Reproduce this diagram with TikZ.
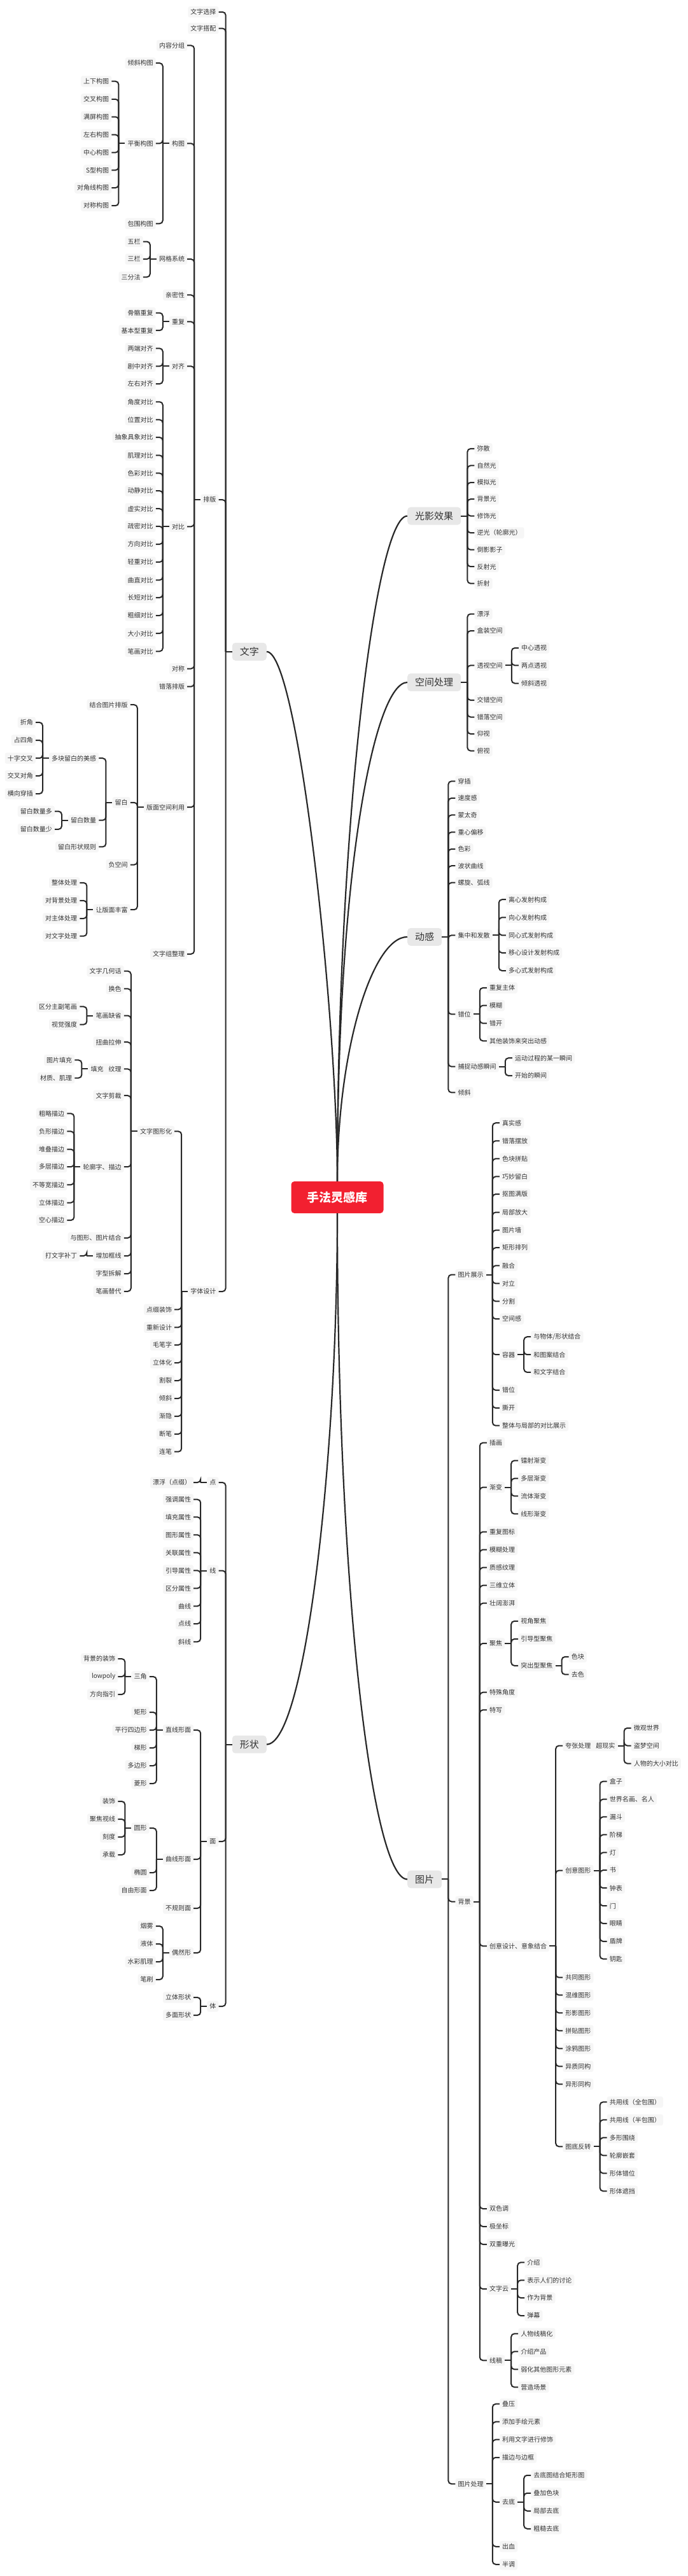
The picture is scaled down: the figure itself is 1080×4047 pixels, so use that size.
\documentclass[tikz,border=0pt]{standalone}
\usepackage{fontspec}
\setmainfont{Noto Sans CJK SC}
\usepackage{tikz}

\definecolor{ink}{RGB}{51,51,51}
\definecolor{wire}{RGB}{40,40,40}
\definecolor{leafbg}{RGB}{246,246,246}
\definecolor{topicbg}{RGB}{232,232,232}
\definecolor{hubred}{RGB}{242,32,48}

\tikzset{
  leaf/.style={font=\fontsize{10}{12}\selectfont, text=ink, fill=leafbg,
    rounded corners=3pt, inner xsep=4pt, inner ysep=4pt},
  topic/.style={font=\fontsize{15}{18}\selectfont, text=ink, fill=topicbg,
    rounded corners=5pt, inner xsep=12pt, inner ysep=7pt},
  hub/.style={font=\fontsize{19}{22}\selectfont\bfseries, text=white, fill=hubred,
    rounded corners=5pt, minimum width=145pt, minimum height=50pt},
  br/.style={draw=wire, line width=2pt, rounded corners=5pt},
  trunk/.style={draw=wire, line width=2.2pt},
}

% children to the right / to the left of a parent: name/y/text
\newcommand\kidsR[2]{%
  \draw[br] (#1.east) -- ++(10,0);
  \foreach \nm/\yy/\lab in {#2}{%
    \node[leaf,anchor=west,xshift=21pt] (\nm) at (#1.east |- 0,\yy) {\lab};
    \draw[br] (#1.east) ++(10,0) |- (\nm.west);
  }}
\newcommand\kidsL[2]{%
  \draw[br] (#1.west) -- ++(-10,0);
  \foreach \nm/\yy/\lab in {#2}{%
    \node[leaf,anchor=east,xshift=-21pt] (\nm) at (#1.west |- 0,\yy) {\lab};
    \draw[br] (#1.west) ++(-10,0) |- (\nm.east);
  }}

\begin{document}
\begin{tikzpicture}[x=1pt,y=-1pt]
\fill[white] (0,0) rectangle (1080,4047);
\useasboundingbox (0,0) rectangle (1080,4047);

\node[hub] (root) at (530,1881) {手法灵感库};
\node[topic,anchor=east] (wenzi) at (419,1023.8) {文字};
\node[topic,anchor=east] (xingzhuang) at (419,2740.5) {形状};
\node[topic,anchor=west] (guangying) at (640,810.6) {光影效果};
\node[topic,anchor=west] (kongjian) at (640,1072) {空间处理};
\node[topic,anchor=west] (donggan) at (640,1471.9) {动感};
\node[topic,anchor=west] (tupian) at (640,2952.4) {图片};

\draw[trunk] (root.north) .. controls +(0,-256) and +(50,0) .. (wenzi.east);
\draw[trunk] (root.north) .. controls +(0,-556) and +(-50,0) .. (guangying.west);
\draw[trunk] (root.north) .. controls +(0,-500) and +(-50,0) .. (kongjian.west);
\draw[trunk] (root.north) .. controls +(0,-206) and +(-55,0) .. (donggan.west);
\draw[trunk] (root.south) .. controls +(0,394) and +(60,0) .. (xingzhuang.east);
\draw[trunk] (root.south) .. controls +(0,594) and +(-55,0) .. (tupian.west);

% 文字
\kidsL{wenzi}{wz1/18.8/文字选择, wz2/44.6/文字搭配, paiban/785.1/排版, ztsj/2029/字体设计}
\kidsL{paiban}{pb1/71.4/内容分组, goutu/225.3/构图, wangge/407.1/网格系统, pb4/463.4/亲密性,
  chongfu/505.4/重复, duiqi/575.3/对齐, duibi/827.3/对比, pb8/1050.5/对称, pb9/1078.7/错落排版,
  bmkj/1268.2/版面空间利用, pb11/1498.8/文字组整理}
\kidsL{goutu}{gt1/99.1/倾斜构图, pingheng/225.4/平衡构图, gt3/351.3/包围构图}
\kidsL{pingheng}{ph1/127.7/上下构图, ph2/155.8/交叉构图, ph3/183.5/满屏构图, ph4/211.6/左右构图,
  ph5/239.7/中心构图, ph6/267.4/S型构图, ph7/295.1/对角线构图, ph8/323.2/对称构图}
\kidsL{wangge}{wg1/379.5/五栏, wg2/407.1/三栏, wg3/435.3/三分法}
\kidsL{chongfu}{cf1/491.5/骨骼重复, cf2/519.2/基本型重复}
\kidsL{duiqi}{dq1/547.3/两端对齐, dq2/575.4/剧中对齐, dq3/603.1/左右对齐}
\kidsL{duibi}{db1/631.3/角度对比, db2/659.4/位置对比, db3/687.1/抽象具象对比, db4/715.3/肌理对比,
  db5/743.4/色彩对比, db6/771.1/动静对比, db7/799.2/虚实对比, db8/826.9/疏密对比, db9/855/方向对比,
  db10/883.1/轻重对比, db11/911.3/曲直对比, db12/938.9/长短对比, db13/967/粗细对比,
  db14/995.2/大小对比, db15/1023.3/笔画对比}
\kidsL{bmkj}{bm1/1107.2/结合图片排版, liubai/1260.8/留白, bm3/1358.6/负空间, fengfu/1429.2/让版面丰富}
\kidsL{liubai}{duokuai/1191.2/多块留白的美感, shuliang/1288.7/留白数量, lb3/1330.4/留白形状规则}
\kidsL{duokuai}{dk1/1134.9/折角, dk2/1163/占四角, dk3/1191.2/十字交叉, dk4/1218.8/交叉对角, dk5/1247/横向穿插}
\kidsL{shuliang}{sl1/1274.6/留白数量多, sl2/1302.8/留白数量少}
\kidsL{fengfu}{ff1/1386.8/整体处理, ff2/1414.9/对背景处理, ff3/1443/对主体处理, ff4/1470.7/对文字处理}
\kidsL{ztsj}{txh/1777.4/文字图形化, zs2/2057.3/点缀装饰, zs3/2085.3/重新设计, zs4/2113/毛笔字,
  zs5/2141/立体化, zs6/2169/割裂, zs7/2197/倾斜, zs8/2225/渐隐, zs9/2253/断笔, zs10/2280.7/连笔}
\kidsL{txh}{tx1/1525.6/文字几何话, tx2/1553.3/换色, quesheng/1595.5/笔画缺省, tx4/1637.2/扭曲拉伸,
  tianchong/1679.4/填充\hspace{8pt}纹理, tx6/1721.2/文字剪裁, lunkuo/1833.2/轮廓字、描边,
  tx8/1944.8/与图形、图片结合, kuangxian/1973/增加框线, tx10/2001.1/字型拆解, tx11/2028.8/笔画替代}
\kidsL{quesheng}{qs1/1581.4/区分主副笔画, qs2/1609.6/视觉强度}
\kidsL{tianchong}{tc1/1665.4/图片填充, tc2/1693.5/材质、肌理}
\kidsL{lunkuo}{lk1/1749.3/粗略描边, lk2/1777.4/负形描边, lk3/1805.5/堆叠描边, lk4/1833.2/多层描边,
  lk5/1861.3/不等宽描边, lk6/1889.5/立体描边, lk7/1917.1/空心描边}
\kidsL{kuangxian}{kx1/1973/打文字补丁}

% 形状
\kidsL{xingzhuang}{dian/2329/点, xian/2467.5/线, mian/2893/面, ti/3152/体}
\kidsL{dian}{dn1/2329/漂浮（点缀）}
\kidsL{xian}{xn1/2355.7/强调属性, xn2/2383.3/填充属性, xn3/2411.3/图形属性, xn4/2439.3/关联属性,
  xn5/2467.3/引导属性, xn6/2495.3/区分属性, xn7/2523.3/曲线, xn8/2551/点线, xn9/2579.3/斜线}
\kidsL{mian}{zxm/2718/直线形面, qxm/2921/曲线形面, mn3/2998/不规则面, orx/3068/偶然形}
\kidsL{zxm}{sanjiao/2634/三角, zx2/2690/矩形, zx3/2718/平行四边形, zx4/2746/梯形, zx5/2774/多边形, zx6/2802/菱形}
\kidsL{sanjiao}{sj1/2606/背景的装饰, sj2/2634/lowpoly, sj3/2662/方向指引}
\kidsL{qxm}{yuan/2872/圆形, qx2/2942/椭圆, qx3/2970/自由形面}
\kidsL{yuan}{yx1/2830/装饰, yx2/2858/聚焦视线, yx3/2886/刻度, yx4/2914/承载}
\kidsL{orx}{or1/3026/烟雾, or2/3054/液体, or3/3082/水彩肌理, or4/3110/笔刷}
\kidsL{ti}{ti1/3138/立体形状, ti2/3166/多面形状}

% 光影效果 / 空间处理 / 动感
\kidsR{guangying}{gy1/704.9/弥散, gy2/731.4/自然光, gy3/758/模拟光, gy4/784.1/背景光, gy5/810.6/修饰光,
  gy6/837.1/逆光（轮廓光）, gy7/863.7/倒影影子, gy8/890.2/反射光, gy9/916.7/折射}
\kidsR{kongjian}{kj1/964.5/漂浮, kj2/991/盒装空间, toushi/1045.3/透视空间, kj4/1100/交错空间,
  kj5/1126.5/错落空间, kj6/1153/仰视, kj7/1179.6/俯视}
\kidsR{toushi}{ts1/1018/中心透视, ts2/1045.3/两点透视, ts3/1073.5/倾斜透视}
\kidsR{donggan}{dg1/1227.3/穿插, dg2/1253.9/速度感, dg3/1280.4/蒙太奇, dg4/1307.3/重心偏移, dg5/1333.8/色彩,
  dg6/1360.2/波状曲线, dg7/1386.7/螺旋、弧线, jizhong/1469.3/集中和发散, cuowei/1593.4/错位,
  buzhuo/1675.7/捕捉动感瞬间, dg11/1716.4/倾斜}
\kidsR{jizhong}{jz1/1413.2/离心发射构成, jz2/1441.3/向心发射构成, jz3/1469.3/同心式发射构成,
  jz4/1497/移心设计发射构成, jz5/1525/多心式发射构成}
\kidsR{cuowei}{cw1/1551.9/重复主体, cw2/1579.6/模糊, cw3/1607.7/错开, cw4/1635.3/其他装饰来突出动感}
\kidsR{buzhuo}{bz1/1662.2/运动过程的某一瞬间, bz2/1689.9/开始的瞬间}

% 图片
\kidsR{tupian}{zhanshi/2002.5/图片展示, beijing/2987.5/背景, chuli/3902.3/图片处理}
\kidsR{zhanshi}{tz1/1764.2/真实感, tz2/1792.3/错落摆放, tz3/1820.3/色块拼贴, tz4/1848.4/巧妙留白,
  tz5/1876/抠图满版, tz6/1904.5/局部放大, tz7/1932.6/图片墙, tz8/1960.2/矩形排列, tz9/1988.3/融合,
  tz10/2016.4/对立, tz11/2044.4/分割, tz12/2072.1/空间感, rongqi/2128.2/容器, tz14/2184/错位,
  tz15/2212/撕开, tz16/2239.7/整体与局部的对比展示}
\kidsR{rongqi}{rq1/2100.2/{与物体/形状结合}, rq2/2128.2/和图案结合, rq3/2155.9/和文字结合}
\kidsR{beijing}{bj1/2266.6/插画, jianbian/2336.5/渐变, bj3/2406.5/重复图标, bj4/2434.5/模糊处理,
  bj5/2462.6/质感纹理, bj6/2490.7/三维立体, bj7/2518.7/壮阔澎湃, jujiao/2581.8/聚焦, bj9/2658.7/特殊角度,
  bj10/2686.3/特写, chuangyi/3057.4/创意设计、意象结合, bj12/3470/双色调, bj13/3498/极坐标,
  bj14/3526/双重曝光, ciyun/3596.1/文字云, xiangao/3708.3/线稿}
\kidsR{jianbian}{jb1/2294.6/镭射渐变, jb2/2322.7/多层渐变, jb3/2350.4/流体渐变, jb4/2378.4/线形渐变}
\kidsR{jujiao}{jj1/2546.8/视角聚焦, jj2/2574.9/引导型聚焦, tuchu/2616.8/突出型聚焦}
\kidsR{tuchu}{tu1/2602.9/色块, tu2/2630.6/去色}
\kidsR{chuangyi}{kuazhang/2742.5/夸张处理\hspace{8pt}超现实, tuxing/2938.5/创意图形, cy3/3106.7/共同图形,
  cy4/3134.3/混维图形, cy5/3162.3/形影图形, cy6/3190.3/拼贴图形, cy7/3218.3/涂鸦图形,
  cy8/3246.3/异质同构, cy9/3274.3/异形同构, tudi/3372.3/图底反转}
\kidsR{kuazhang}{kz1/2714.8/微观世界, kz2/2742.5/盗梦空间, kz3/2770.5/人物的大小对比}
\kidsR{tuxing}{tg1/2798.6/盒子, tg2/2826.6/世界名画、名人, tg3/2854.3/漏斗, tg4/2882.4/阶梯, tg5/2910.4/灯,
  tg6/2938.1/书, tg7/2966.2/钟表, tg8/2994.2/门, tg9/3021.9/眼睛, tg10/3050/盾牌, tg11/3077.6/钥匙}
\kidsR{tudi}{td1/3302.3/共用线（全包围）, td2/3330.3/共用线（半包围）, td3/3358.3/多形围绕,
  td4/3386.3/轮廓嵌套, td5/3414.3/形体错位, td6/3442.3/形体遮挡}
\kidsR{ciyun}{wy1/3554.3/介绍, wy2/3582.3/表示人们的讨论, wy3/3610/作为背景, wy4/3638/弹幕}
\kidsR{xiangao}{xg1/3666.3/人物线稿化, xg2/3694.3/介绍产品, xg3/3722.3/弱化其他图形元素, xg4/3750.3/营造场景}
\kidsR{chuli}{cl1/3776.7/叠压, cl2/3804.7/添加手绘元素, cl3/3832.7/利用文字进行修饰, cl4/3860.7/描边与边框,
  qudi/3930.7/去底, cl6/4000.7/出血, cl7/4028.7/半调}
\kidsR{qudi}{qd1/3888.7/去底图结合矩形图, qd2/3916.7/叠加色块, qd3/3944.7/局部去底, qd4/3972.7/粗糙去底}
\end{tikzpicture}
\end{document}
